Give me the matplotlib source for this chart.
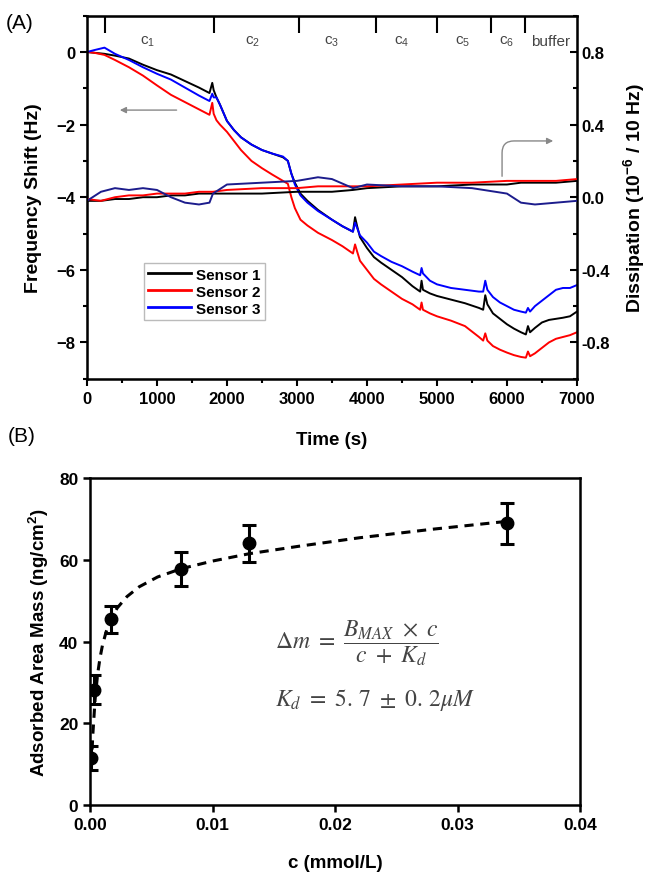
import numpy as np
import matplotlib
matplotlib.use("Agg")
import matplotlib.pyplot as plt
from matplotlib.ticker import MultipleLocator, FormatStrFormatter
from matplotlib.lines import Line2D

plt.rcParams['font.family'] = ['Liberation Sans', 'DejaVu Sans']
plt.rcParams['mathtext.fontset'] = 'custom'
plt.rcParams['mathtext.rm'] = 'Liberation Sans'
plt.rcParams['mathtext.sf'] = 'Liberation Sans'
plt.rcParams['mathtext.it'] = 'Liberation Sans:italic'
plt.rcParams['mathtext.bf'] = 'Liberation Sans:bold'

# ---------------- Panel A data ----------------
time_s = [0, 100, 250, 400, 600, 800, 1000, 1200, 1400, 1600, 1750, 1790, 1810, 1850, 1900,
          2000, 2100, 2200, 2350, 2500, 2650, 2800, 2870, 2920, 2970, 3050, 3150, 3300, 3500,
          3650, 3800, 3830, 3860, 3900, 4000, 4100, 4200, 4350, 4500, 4650, 4760, 4780, 4800,
          4900, 5000, 5200, 5400, 5600, 5660, 5690, 5720, 5800, 5900, 6000, 6100, 6200, 6270,
          6300, 6330, 6400, 6500, 6600, 6700, 6800, 6900, 7000]

freq_sensor1 = [0.0, -0.02, -0.05, -0.1, -0.18, -0.35, -0.5, -0.62, -0.8, -0.98, -1.13, -0.85,
                -1.05, -1.25, -1.45, -1.9, -2.15, -2.35, -2.55, -2.7, -2.8, -2.9, -3.0, -3.35,
                -3.6, -3.9, -4.1, -4.35, -4.62, -4.8, -4.95, -4.55, -4.8, -5.1, -5.4, -5.65,
                -5.8, -6.0, -6.2, -6.45, -6.6, -6.3, -6.55, -6.65, -6.72, -6.82, -6.92, -7.05,
                -7.1, -6.7, -6.95, -7.2, -7.35, -7.5, -7.62, -7.72, -7.78, -7.55, -7.72, -7.6,
                -7.45, -7.38, -7.35, -7.32, -7.28, -7.15]

freq_sensor2 = [0.0, -0.02, -0.08, -0.22, -0.42, -0.65, -0.92, -1.18, -1.38, -1.58, -1.73, -1.4,
                -1.7, -1.88, -2.0, -2.2, -2.45, -2.7, -3.0, -3.2, -3.38, -3.55, -3.63, -4.0,
                -4.3, -4.62, -4.78, -4.98, -5.18, -5.35, -5.55, -5.3, -5.5, -5.75, -6.0, -6.25,
                -6.4, -6.6, -6.8, -6.95, -7.1, -6.9, -7.1, -7.2, -7.28, -7.4, -7.55, -7.85,
                -7.95, -7.75, -7.95, -8.1, -8.2, -8.28, -8.35, -8.4, -8.42, -8.25, -8.38, -8.3,
                -8.15, -8.0, -7.9, -7.85, -7.8, -7.72]

freq_sensor3 = [0.0, 0.05, 0.12, -0.05, -0.22, -0.42, -0.6, -0.76, -0.98, -1.2, -1.35, -1.15,
                -1.25, -1.25, -1.45, -1.9, -2.15, -2.35, -2.55, -2.7, -2.8, -2.88, -3.0, -3.35,
                -3.65, -3.95, -4.15, -4.38, -4.62, -4.8, -4.95, -4.7, -4.85, -5.05, -5.25, -5.5,
                -5.62, -5.78, -5.9, -6.05, -6.15, -5.95, -6.1, -6.3, -6.4, -6.5, -6.55, -6.6,
                -6.6, -6.3, -6.55, -6.75, -6.9, -7.0, -7.1, -7.15, -7.18, -7.05, -7.15, -7.0,
                -6.85, -6.7, -6.55, -6.5, -6.5, -6.42]

diss_time = [0, 200, 400, 600, 800, 1000, 1200, 1400, 1600, 1750, 1800, 2000, 2500, 3000,
             3300, 3500, 3800, 4000, 4500, 5000, 5500, 6000, 6200, 6400, 6700, 7000]
diss_sensor1 = [-0.02, -0.02, -0.01, -0.01, 0.0, 0.0, 0.01, 0.01, 0.02, 0.02, 0.02, 0.02, 0.02,
                0.03, 0.03, 0.03, 0.04, 0.05, 0.06, 0.06, 0.07, 0.07, 0.08, 0.08, 0.08, 0.09]
diss_sensor2 = [-0.01, -0.02, 0.0, 0.01, 0.01, 0.02, 0.02, 0.02, 0.03, 0.03, 0.03, 0.04, 0.05,
                0.05, 0.06, 0.06, 0.06, 0.06, 0.07, 0.08, 0.08, 0.09, 0.09, 0.09, 0.09, 0.1]
diss_sensor3 = [-0.02, 0.03, 0.05, 0.04, 0.05, 0.04, 0.0, -0.03, -0.04, -0.03, 0.02, 0.07, 0.08,
                0.09, 0.11, 0.1, 0.05, 0.07, 0.06, 0.06, 0.05, 0.02, -0.03, -0.04, -0.03, -0.02]

event_times = [260, 1810, 3030, 4130, 5000, 5770, 6260]
stage_labels = ['c$_\\mathsf{1}$', 'c$_\\mathsf{2}$', 'c$_\\mathsf{3}$', 'c$_\\mathsf{4}$',
                'c$_\\mathsf{5}$', 'c$_\\mathsf{6}$', 'buffer']
stage_label_pos = [870, 2360, 3490, 4500, 5360, 5990, 6620]

sensor_names = ['Sensor 1', 'Sensor 2', 'Sensor 3']

# ---------------- Panel B data ----------------
conc = [0.0001, 0.0003, 0.0017, 0.0074, 0.013, 0.034]
mass = [11.5, 28.2, 45.4, 57.8, 64.0, 68.9]
mass_err = [3.0, 3.5, 3.2, 4.2, 4.6, 5.0]

fit_c = [0.0001, 0.0002, 0.0004, 0.0006, 0.0008, 0.0010, 0.0013, 0.0017, 0.0022, 0.0030,
         0.0040, 0.0055, 0.0074, 0.010, 0.013, 0.017, 0.022, 0.028, 0.034]
fit_m = [9.7, 16.6, 25.9, 31.9, 36.0, 39.1, 42.4, 45.5, 48.2, 51.0, 53.4, 55.8, 57.8, 59.7,
         61.5, 63.3, 65.4, 67.5, 69.4]

# ---------------- Figure ----------------
fig = plt.figure(figsize=(6.49, 8.79), dpi=100)
axA = fig.add_axes([0.134, 0.568, 0.755, 0.413])
axB = fig.add_axes([0.139, 0.083, 0.755, 0.372])

colors = ['#000000', '#ff0000', '#0000ff']
freqs = [freq_sensor1, freq_sensor2, freq_sensor3]
for f, c in zip(freqs, colors):
    axA.plot(time_s, f, color=c, lw=1.4)

axA.set_xlim(0, 7000)
axA.set_ylim(-9, 1)
axA.xaxis.set_major_locator(MultipleLocator(1000))
axA.xaxis.set_minor_locator(MultipleLocator(500))
axA.yaxis.set_major_locator(MultipleLocator(2))
axA.yaxis.set_minor_locator(MultipleLocator(1))
axA.tick_params(axis='both', which='major', direction='out', length=5, width=1.5, labelsize=12)
axA.tick_params(axis='both', which='minor', direction='out', length=3, width=1.5)
axA.tick_params(top=False, right=False)
for lab in axA.get_xticklabels() + axA.get_yticklabels():
    lab.set_fontweight('bold')
for sp in axA.spines.values():
    sp.set_linewidth(1.8)
axA.set_xlabel('Time (s)', fontsize=13.5, fontweight='bold', labelpad=18)
axA.set_ylabel('Frequency Shift (Hz)', fontsize=14, fontweight='bold', labelpad=10)

# right axis: dissipation
axR = axA.twinx()
dcol = ['#000000', '#ff0000', '#1c1c8c']
for d, c in zip([diss_sensor1, diss_sensor2, diss_sensor3], dcol):
    axR.plot(diss_time, d, color=c, lw=1.4)
axR.set_ylim(-1.0, 1.0)
axR.yaxis.set_minor_locator(MultipleLocator(0.2))
axR.yaxis.set_major_formatter(FormatStrFormatter('%.1f'))
axR.set_yticks([-0.8, -0.4, 0.0, 0.4, 0.8])
axR.tick_params(axis='y', which='major', direction='in', length=5, width=1.5, labelsize=12)
axR.tick_params(axis='y', which='minor', direction='in', length=3, width=1.5)
for lab in axR.get_yticklabels():
    lab.set_fontweight('bold')
axR.set_ylabel('Dissipation (10$^{\\mathbf{-6}}$ / 10 Hz)', fontsize=14, fontweight='bold',
               labelpad=8)

# top event ticks
secx = axA.secondary_xaxis('top')
secx.set_xticks(event_times)
secx.tick_params(direction='in', length=12, width=1.5, labeltop=False)
for t, lab in zip(stage_label_pos, stage_labels):
    axA.text(t, 0.93, lab, transform=axA.get_xaxis_transform(), ha='center', va='center',
             fontsize=11, color='#444444')

# arrows
axA.annotate('', xy=(430, -1.6), xytext=(1320, -1.6),
             arrowprops=dict(arrowstyle='-|>', color='#888888', lw=1.0, mutation_scale=9))
axA.annotate('', xy=(6700, -2.45), xytext=(5930, -3.5),
             arrowprops=dict(arrowstyle='-|>', color='#888888', lw=1.0, mutation_scale=9,
                             connectionstyle='angle,angleA=90,angleB=0,rad=12'))

handles = [Line2D([], [], color=c, lw=2) for c in colors]
leg = axA.legend(handles, sensor_names, loc='lower left', bbox_to_anchor=(0.1, 0.14),
                 prop={'weight': 'bold', 'size': 11}, frameon=True, fancybox=False,
                 edgecolor='#aaaaaa', handlelength=2.8, borderpad=0.3, labelspacing=0.2,
                 handletextpad=0.3)
leg.get_frame().set_linewidth(1.0)

fig.text(0.031, 0.973, '(A)', fontsize=15, ha='center', va='center')

# ---------------- Panel B ----------------
axB.plot(fit_c, fit_m, color='black', lw=2.2, ls=(0, (3.0, 2.2)))
axB.errorbar(conc, mass, yerr=mass_err, fmt='o', color='black', ms=9, capsize=5,
             capthick=2.2, elinewidth=2.2)
axB.set_xlim(0, 0.04)
axB.set_ylim(0, 80)
axB.xaxis.set_major_locator(MultipleLocator(0.01))
axB.yaxis.set_major_locator(MultipleLocator(20))
axB.xaxis.set_major_formatter(FormatStrFormatter('%.2f'))
axB.tick_params(axis='both', which='major', direction='out', length=5, width=1.8, labelsize=12.5)
for lab in axB.get_xticklabels() + axB.get_yticklabels():
    lab.set_fontweight('bold')
for sp in axB.spines.values():
    sp.set_linewidth(1.8)
axB.set_xlabel('c (mmol/L)', fontsize=13.5, fontweight='bold', labelpad=16)
axB.set_ylabel('Adsorbed Area Mass (ng/cm$^{\\mathbf{2}}$)', fontsize=13.5, fontweight='bold',
               labelpad=6)

axB.text(0.378, 0.498, r'$\Delta m\ =\ \dfrac{B_{MAX}\ \times\ c}{c\ +\ K_d}$',
         transform=axB.transAxes, fontsize=17, color='#444444', math_fontfamily='stix',
         ha='left', va='center')
axB.text(0.378, 0.324, r'$K_d\ =\ 5.\,7\ \pm\ 0.\,2\mu M$',
         transform=axB.transAxes, fontsize=17, color='#444444', math_fontfamily='stix',
         ha='left', va='center')

fig.text(0.034, 0.503, '(B)', fontsize=15, ha='center', va='center')

fig.savefig('out.png', dpi=100)
